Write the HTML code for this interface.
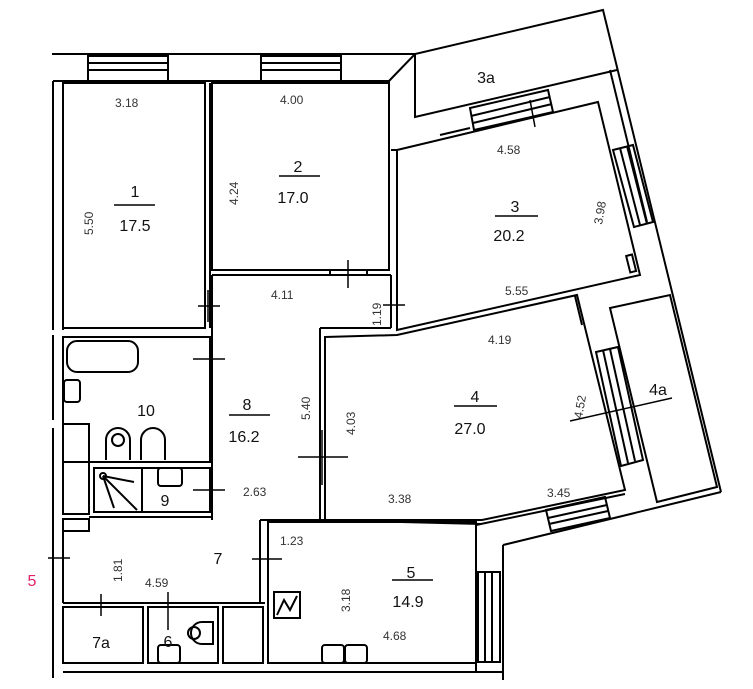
<!DOCTYPE html>
<html><head><meta charset="utf-8"><style>
html,body{margin:0;padding:0;background:#fff}
svg{display:block}
text{font-family:"Liberation Sans",sans-serif}
.d{font-size:12px;fill:#333}
.n{font-size:16px;fill:#111}
</style></head><body>
<svg width="753" height="689" viewBox="0 0 753 689" xmlns="http://www.w3.org/2000/svg">
<g fill="none" stroke="#000" stroke-width="2">
<line x1="52" y1="54" x2="415" y2="54"/>
<line x1="53" y1="81" x2="389" y2="81"/>
<rect x="88" y="56" width="80" height="25"/><line x1="88" y1="63" x2="168" y2="63"/><line x1="88" y1="70" x2="168" y2="70"/>
<rect x="261" y="56" width="80" height="25"/><line x1="261" y1="63" x2="341" y2="63"/><line x1="261" y1="70" x2="341" y2="70"/>
<line x1="53" y1="81" x2="53" y2="330"/><line x1="53" y1="335" x2="53" y2="420"/><line x1="53" y1="428" x2="53" y2="540"/>
<line x1="53" y1="540" x2="53" y2="678"/>
<line x1="63" y1="83" x2="63" y2="330"/>
<rect x="63" y="83" width="142" height="245"/>
<line x1="210" y1="83" x2="210" y2="328"/>
<rect x="212" y="83" width="177" height="187"/>
<line x1="212" y1="275" x2="391" y2="275"/>
<line x1="212" y1="275" x2="212" y2="520"/>
<line x1="391" y1="275" x2="391" y2="328"/>
<line x1="391" y1="328" x2="320" y2="328"/>
<line x1="320" y1="328" x2="320" y2="520"/>
<rect x="330" y="270" width="37" height="5"/>
<rect x="63" y="337" width="147" height="125"/>
<rect x="67" y="341" width="71" height="31" rx="10"/>
<rect x="64" y="380" width="16" height="22" rx="3"/>
<rect x="63" y="424" width="26" height="90"/>
<rect x="63" y="519" width="26" height="12"/>
<path d="M106 460 v-20 a12 12 0 0 1 24 0 v20"/><circle cx="118" cy="440" r="6"/>
<path d="M141 460 v-20 a12 12 0 0 1 24 0 v20"/>
<rect x="94" y="468" width="116" height="44"/>
<line x1="142" y1="468" x2="142" y2="512"/>
<rect x="158" y="468" width="24" height="18" rx="3"/>
<circle cx="103" cy="476" r="3"/><line x1="103" y1="476" x2="134" y2="482"/><line x1="103" y1="476" x2="137" y2="510"/><line x1="103" y1="476" x2="114" y2="508"/>
<line x1="89" y1="517" x2="212" y2="517"/>
<line x1="63" y1="520" x2="63" y2="603"/>
<line x1="63" y1="603" x2="265" y2="603"/>
<line x1="260" y1="520" x2="260" y2="603"/>
<line x1="260" y1="520" x2="325" y2="520"/>
<line x1="268" y1="525" x2="268" y2="663"/>
<rect x="63" y="607" width="80" height="56"/>
<rect x="148" y="607" width="70" height="56"/>
<rect x="223" y="607" width="40" height="56"/>
<circle cx="194" cy="633" r="6"/><path d="M202 622 h11 v22 h-11 a11 11 0 0 1 0 -22"/>
<rect x="158" y="645" width="22" height="18" rx="3"/>
<line x1="63" y1="672" x2="503" y2="672"/>
<rect x="268" y="522" width="208" height="141"/>
<rect x="274" y="592" width="26" height="26"/><polyline points="277,615 284,600 290,610 297,596"/>
<rect x="322" y="645" width="22" height="18" rx="3"/><rect x="345" y="645" width="22" height="18" rx="3"/>
<polygon points="325,337 397,335 577,295 625,490 482,520 325,520"/>
<line x1="320" y1="520" x2="482" y2="524"/>
<line x1="476" y1="525" x2="476" y2="673"/>
<line x1="476" y1="525" x2="625" y2="494"/>
<line x1="503" y1="545" x2="503" y2="680"/>
<line x1="503" y1="545" x2="721" y2="492"/>
<rect x="478" y="572" width="22" height="90"/><line x1="485" y1="572" x2="485" y2="662"/><line x1="492" y1="572" x2="492" y2="662"/>
<polygon points="546,510 605,497 610,518 551,531"/><line x1="548" y1="518" x2="607" y2="505"/><line x1="549" y1="524" x2="608" y2="511"/>
<polygon points="610,308 670,295 717,487 657,502"/>
<polygon points="596,352 618,347 643,460 621,466"/><line x1="603" y1="350" x2="628" y2="463"/><line x1="610" y1="349" x2="635" y2="461"/>
<polygon points="397,150 598,102 640,275 397,330"/>
<rect x="628" y="255" width="6" height="17" transform="rotate(-14 631 263)"/>
<line x1="575" y1="296" x2="582" y2="325"/>
<polygon points="613,150 633,145 653,222 634,227"/><line x1="620" y1="148" x2="640" y2="225"/><line x1="627" y1="146" x2="647" y2="224"/>
<polyline points="389,81 415,54 603,10 721,492"/>
<line x1="389" y1="81" x2="389" y2="150"/>
<line x1="391" y1="150" x2="397" y2="150"/>
<polyline points="415,54 415,117 617,70"/>
<polygon points="470,108 548,90 553,112 474,130"/><line x1="471" y1="116" x2="550" y2="97"/><line x1="473" y1="123" x2="552" y2="104"/>
<line x1="440" y1="135" x2="470" y2="128"/>
<line x1="610" y1="70" x2="647" y2="222"/>
</g>
<g stroke="#000" stroke-width="1.5">
<line x1="198" y1="306" x2="220" y2="306"/><line x1="208" y1="290" x2="208" y2="322"/>
<line x1="348" y1="260" x2="348" y2="288"/>
<line x1="383" y1="305" x2="405" y2="305"/>
<line x1="193" y1="359" x2="225" y2="359"/>
<line x1="193" y1="490" x2="225" y2="490"/>
<line x1="298" y1="457" x2="348" y2="457"/><line x1="322" y1="430" x2="322" y2="485"/>
<line x1="48" y1="558" x2="70" y2="558"/>
<line x1="252" y1="559" x2="282" y2="559"/>
<line x1="101" y1="594" x2="101" y2="616"/><line x1="168" y1="592" x2="168" y2="630"/>
<line x1="530" y1="100" x2="535" y2="127"/>
<line x1="570" y1="421" x2="672" y2="398"/>
</g>
<g class="d">
<text x="115" y="107">3.18</text><text x="280" y="104">4.00</text>
<text x="497" y="154">4.58</text><text x="505" y="295">5.55</text>
<text x="271" y="299">4.11</text><text x="488" y="344">4.19</text>
<text x="243" y="496">2.63</text><text x="388" y="503">3.38</text><text x="547" y="497">3.45</text>
<text x="280" y="545">1.23</text><text x="145" y="587">4.59</text><text x="383" y="640">4.68</text>
<text transform="translate(93 235) rotate(-90)">5.50</text>
<text transform="translate(238 205) rotate(-90)">4.24</text>
<text transform="translate(602 225) rotate(-80)">3.98</text>
<text transform="translate(381 326) rotate(-90)">1.19</text>
<text transform="translate(310 420) rotate(-90)">5.40</text>
<text transform="translate(355 435) rotate(-90)">4.03</text>
<text transform="translate(582 419) rotate(-80)">4.52</text>
<text transform="translate(122 582) rotate(-90)">1.81</text>
<text transform="translate(350 612) rotate(-90)">3.18</text>
</g>
<g class="n" text-anchor="middle">
<text x="135" y="197">1</text><text x="135" y="231">17.5</text>
<text x="298" y="172">2</text><text x="293" y="203">17.0</text>
<text x="515" y="212">3</text><text x="509" y="241">20.2</text>
<text x="486" y="83">3a</text>
<text x="475" y="402">4</text><text x="470" y="434">27.0</text>
<text x="658" y="395">4a</text>
<text x="411" y="578">5</text><text x="408" y="607">14.9</text>
<text x="168" y="647">6</text>
<text x="218" y="564">7</text>
<text x="101" y="648">7a</text>
<text x="247" y="410">8</text><text x="244" y="442">16.2</text>
<text x="165" y="506">9</text>
<text x="146" y="416">10</text>
<text x="32" y="586" fill="#e0206a">5</text>
</g>
<g stroke="#000" stroke-width="1.5">
<line x1="114" y1="205" x2="155" y2="205"/><line x1="279" y1="176" x2="320" y2="176"/>
<line x1="495" y1="216" x2="538" y2="216"/><line x1="454" y1="406" x2="497" y2="406"/>
<line x1="392" y1="580" x2="433" y2="580"/><line x1="229" y1="415" x2="270" y2="415"/>
</g>
</svg>
</body></html>
